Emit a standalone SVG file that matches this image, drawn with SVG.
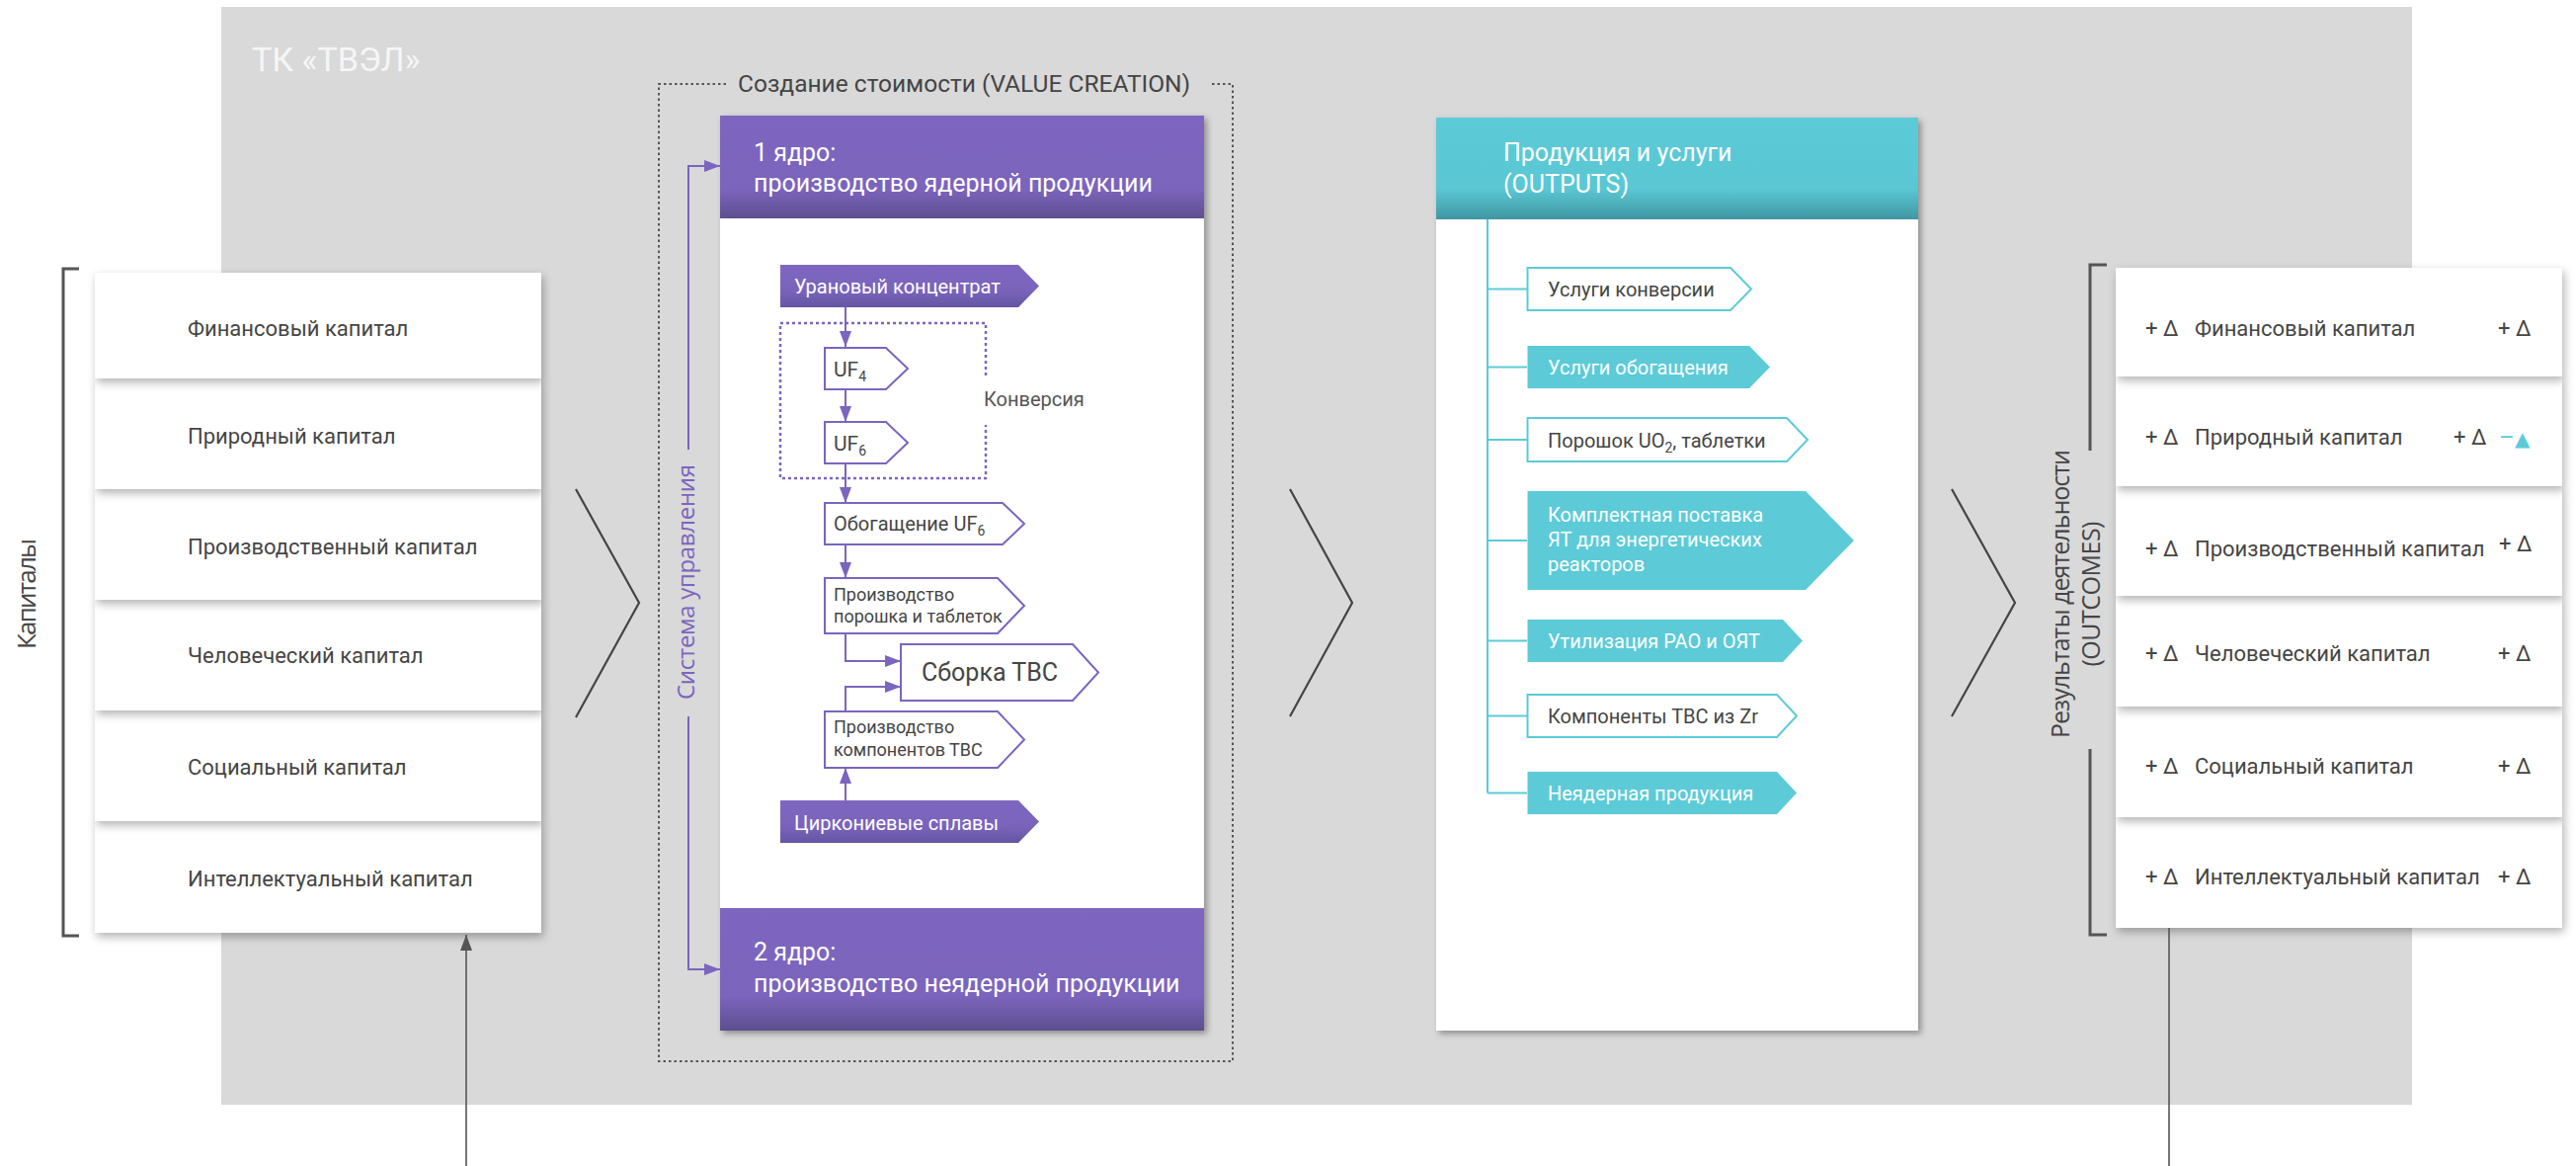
<svg xmlns="http://www.w3.org/2000/svg" width="2608" height="1180" viewBox="0 0 2608 1180">
<style>
.c{font-family:Roboto,"Liberation Sans",sans-serif;}
.r{font-family:"Open Sans","DejaVu Sans",sans-serif;}
.dk{fill:#454545;}
.wt{fill:#ffffff;}
.cap{font-size:22px;}
.tag{font-size:20px;}
.sm{font-size:18px;}
.hd{font-size:25px;fill:#ffffff;}
.box{fill:#ffffff;filter:url(#sh);}
.pan{fill:#ffffff;filter:url(#psh);}
.po{fill:#ffffff;stroke:#7b65bf;stroke-width:2;}
.pf{fill:url(#gTag);}
.to{fill:#ffffff;stroke:#5ccbd7;stroke-width:2;}
.tf{fill:#5ccbd7;}
.pl{fill:none;stroke:#7b65bf;stroke-width:2;}
.tl{fill:none;stroke:#5ccbd7;stroke-width:2;}
.chev{fill:none;stroke:#444;stroke-width:2.2;}
.brk{fill:none;stroke:#555;stroke-width:3;}
</style>
<defs>
<filter id="sh" x="-5%" y="-20%" width="110%" height="150%">
<feDropShadow dx="2" dy="4" stdDeviation="5" flood-color="#000" flood-opacity="0.3"/>
</filter>
<filter id="psh" x="-5%" y="-5%" width="110%" height="110%">
<feDropShadow dx="3" dy="3" stdDeviation="3" flood-color="#000" flood-opacity="0.35"/>
</filter>
<linearGradient id="gPur" x1="0" y1="0" x2="0" y2="1">
<stop offset="0" stop-color="#7e66c0"/><stop offset="0.72" stop-color="#7b64bc"/><stop offset="1" stop-color="#5e4f8f"/>
</linearGradient>
<linearGradient id="gTeal" x1="0" y1="0" x2="0" y2="1">
<stop offset="0" stop-color="#5ccbd7"/><stop offset="0.7" stop-color="#5ac7d3"/><stop offset="1" stop-color="#3f97a2"/>
</linearGradient>
<linearGradient id="gTag" x1="0" y1="0" x2="0" y2="1">
<stop offset="0" stop-color="#7e66c0"/><stop offset="0.6" stop-color="#7a64bb"/><stop offset="1" stop-color="#6555a3"/>
</linearGradient>
<marker id="ap" viewBox="0 0 16 12" refX="16" refY="6" markerWidth="16" markerHeight="12" markerUnits="userSpaceOnUse" orient="auto">
<path d="M0 0 L16 6 L0 12 Z" fill="#7b65bf"/>
</marker>
<marker id="ag" viewBox="0 0 16 12" refX="16" refY="6" markerWidth="16" markerHeight="12" markerUnits="userSpaceOnUse" orient="auto">
<path d="M0 0 L16 6 L0 12 Z" fill="#555"/>
</marker>
</defs>

<g id="background">
<rect x="224" y="7" width="2218" height="1111" fill="#d9d9d9"/>
<text class="c" x="255" y="72" font-size="34" fill="#f6f6f6">ТК «ТВЭЛ»</text>
</g>

<g id="capitals">
<path class="brk" d="M80 272 H64 V947 H80"/>
<text class="r dk" font-size="26" textLength="112" transform="translate(36,601) rotate(-90)" text-anchor="middle">Капиталы</text>
<rect class="box" x="96" y="831" width="452" height="113"/>
<rect class="box" x="96" y="719" width="452" height="112"/>
<rect class="box" x="96" y="607" width="452" height="112"/>
<rect class="box" x="96" y="495" width="452" height="112"/>
<rect class="box" x="96" y="383" width="452" height="112"/>
<rect class="box" x="96" y="276" width="452" height="107"/>
<text class="c dk cap" x="190" y="340">Финансовый капитал</text>
<text class="c dk cap" x="190" y="449">Природный капитал</text>
<text class="c dk cap" x="190" y="561">Производственный капитал</text>
<text class="c dk cap" x="190" y="671">Человеческий капитал</text>
<text class="c dk cap" x="190" y="784">Социальный капитал</text>
<text class="c dk cap" x="190" y="897">Интеллектуальный капитал</text>
</g>

<g id="chevrons">
<polyline class="chev" points="583,495 647,610 583,726"/>
<polyline class="chev" points="1306,495 1369,610 1306,725"/>
<polyline class="chev" points="1976,495 2040,610 1976,725"/>
</g>

<g id="value-creation">
<path d="M735 85 H667 V1074 H1248 V85 H1225" fill="none" stroke="#555" stroke-width="2" stroke-dasharray="2.5 3"/>
<text class="c dk" x="747" y="93" font-size="24.5">Создание стоимости (VALUE CREATION)</text>
<text class="r" font-size="24" textLength="238" fill="#7b65bf" transform="translate(703,589) rotate(-90)" text-anchor="middle">Система управления</text>
</g>

<g id="core-panel">
<rect class="pan" x="729" y="117" width="490" height="926"/>
<rect x="729" y="117" width="490" height="104" fill="url(#gPur)"/>
<rect x="729" y="919" width="490" height="124" fill="url(#gPur)"/>
<text class="c hd" x="763" y="163">1 ядро:</text>
<text class="c hd" x="763" y="194">производство ядерной продукции</text>
<text class="c hd" x="763" y="972">2 ядро:</text>
<text class="c hd" x="763" y="1004">производство неядерной продукции</text>
</g>

<g id="conversion">
<path d="M998 380 V327 H790 V484 H998 V430" fill="none" stroke="#7b65bf" stroke-width="2.5" stroke-dasharray="3 3"/>
<text class="c tag" x="996" y="411" fill="#555">Конверсия</text>
</g>

<g id="n-uranium">
<polygon class="pf" points="790,268 1031,268 1052,289.5 1031,311 790,311"/>
<text class="c tag wt" x="804" y="297">Урановый концентрат</text>
</g>
<g id="n-uf4">
<polygon class="po" points="835,352 897,352 919,373 897,394 835,394"/>
<text class="c dk" x="844" y="381" font-size="21">UF<tspan font-size="14" dy="5">4</tspan></text>
</g>
<g id="n-uf6">
<polygon class="po" points="835,427 897,427 919,448 897,469 835,469"/>
<text class="c dk" x="844" y="456" font-size="21">UF<tspan font-size="14" dy="5">6</tspan></text>
</g>
<g id="n-enrich">
<polygon class="po" points="835,509 1015,509 1037,530 1015,551 835,551"/>
<text class="c dk" x="844" y="537" font-size="20">Обогащение UF<tspan font-size="14" dy="5">6</tspan></text>
</g>
<g id="n-powder">
<polygon class="po" points="835,585 1010,585 1037,613 1010,641 835,641"/>
<text class="c dk sm" x="844" y="608">Производство</text>
<text class="c dk sm" x="844" y="630">порошка и таблеток</text>
</g>
<g id="n-assembly">
<polygon class="po" points="912,652 1086,652 1112,680.5 1086,709 912,709"/>
<text class="c dk" x="933" y="689" font-size="25">Сборка ТВС</text>
</g>
<g id="n-components">
<polygon class="po" points="835,720 1010,720 1037,748.5 1010,777 835,777"/>
<text class="c dk sm" x="844" y="742">Производство</text>
<text class="c dk sm" x="844" y="765">компонентов ТВС</text>
</g>
<g id="n-zirconium">
<polygon class="pf" points="790,810 1031,810 1052,831.5 1031,853 790,853"/>
<text class="c tag wt" x="804" y="840">Циркониевые сплавы</text>
</g>

<g id="outputs-panel">
<rect class="pan" x="1454" y="119" width="488" height="924"/>
<rect x="1454" y="119" width="488" height="103" fill="url(#gTeal)"/>
<text class="c hd" x="1522" y="163">Продукция и услуги</text>
<text class="c hd" x="1522" y="195">(OUTPUTS)</text>
</g>
<g id="o1">
<polygon class="to" points="1546.5,271 1752,271 1773,292.5 1752,314 1546.5,314"/>
<text class="c tag dk" x="1567" y="300">Услуги конверсии</text>
</g>
<g id="o2">
<polygon class="tf" points="1546.5,350 1771,350 1792,371.5 1771,393 1546.5,393"/>
<text class="c tag wt" x="1567" y="379">Услуги обогащения</text>
</g>
<g id="o3">
<polygon class="to" points="1546.5,423 1809,423 1830,445 1809,467 1546.5,467"/>
<text class="c tag dk" x="1567" y="453">Порошок UO<tspan font-size="14" dy="5">2</tspan><tspan dy="-5">, таблетки</tspan></text>
</g>
<g id="o4">
<polygon class="tf" points="1546.5,497 1828,497 1877,547 1828,597 1546.5,597"/>
<text class="c tag wt" x="1567" y="528">Комплектная поставка</text>
<text class="c tag wt" x="1567" y="553">ЯТ для энергетических</text>
<text class="c tag wt" x="1567" y="578">реакторов</text>
</g>
<g id="o5">
<polygon class="tf" points="1546.5,627 1805,627 1825,648.5 1805,670 1546.5,670"/>
<text class="c tag wt" x="1567" y="656">Утилизация РАО и ОЯТ</text>
</g>
<g id="o6">
<polygon class="to" points="1546.5,703 1799,703 1819,724.5 1799,746 1546.5,746"/>
<text class="c tag dk" x="1567" y="732">Компоненты ТВС из Zr</text>
</g>
<g id="o7">
<polygon class="tf" points="1546.5,781 1799,781 1819,802.5 1799,824 1546.5,824"/>
<text class="c tag wt" x="1567" y="810">Неядерная продукция</text>
</g>

<g id="outcomes">
<path class="brk" d="M2133 268 H2116 V456"/>
<path class="brk" d="M2116 758 V946 H2133"/>
<text class="r dk" font-size="25" textLength="292" transform="translate(2095,601) rotate(-90)" text-anchor="middle">Результаты деятельности</text>
<text class="r dk" font-size="25" textLength="147" transform="translate(2126,601) rotate(-90)" text-anchor="middle">(OUTCOMES)</text>
<rect class="box" x="2142" y="827" width="452" height="112"/>
<rect class="box" x="2142" y="715" width="452" height="112"/>
<rect class="box" x="2142" y="603" width="452" height="112"/>
<rect class="box" x="2142" y="492" width="452" height="111"/>
<rect class="box" x="2142" y="381" width="452" height="111"/>
<rect class="box" x="2142" y="271" width="452" height="110"/>
<g class="c dk cap">
<text x="2172" y="340">+ Δ</text><text x="2222" y="340">Финансовый капитал</text><text x="2529" y="340">+ Δ</text>
<text x="2172" y="450">+ Δ</text><text x="2222" y="450">Природный капитал</text><text x="2484" y="450">+ Δ</text>
<text x="2172" y="563">+ Δ</text><text x="2222" y="563">Производственный капитал</text><text x="2530" y="558">+ Δ</text>
<text x="2172" y="669">+ Δ</text><text x="2222" y="669">Человеческий капитал</text><text x="2529" y="669">+ Δ</text>
<text x="2172" y="783">+ Δ</text><text x="2222" y="783">Социальный капитал</text><text x="2529" y="783">+ Δ</text>
<text x="2172" y="895">+ Δ</text><text x="2222" y="895">Интеллектуальный капитал</text><text x="2529" y="895">+ Δ</text>
</g>
<text class="c" x="2530" y="451" font-size="24" fill="#5ccbd7">–</text>
<text x="2546" y="451" font-size="20" fill="#5ccbd7" font-family="DejaVu Sans, sans-serif">▲</text>
</g>

<g id="connectors">
<path class="pl" d="M697 455 V168 H729" marker-end="url(#ap)"/>
<path class="pl" d="M697 725 V981 H729" marker-end="url(#ap)"/>
<path class="pl" d="M856 311 V351" marker-end="url(#ap)"/>
<path class="pl" d="M856 394 V427" marker-end="url(#ap)"/>
<path class="pl" d="M856 469 V509" marker-end="url(#ap)"/>
<path class="pl" d="M856 551 V585" marker-end="url(#ap)"/>
<path class="pl" d="M856 641 V669 H912" marker-end="url(#ap)"/>
<path class="pl" d="M856 720 V695 H912" marker-end="url(#ap)"/>
<path class="pl" d="M856 810 V777" marker-end="url(#ap)"/>
<path class="tl" d="M1506 222 V802.5"/>
<path class="tl" d="M1506 292.5 H1546 M1506 371.5 H1546 M1506 445 H1546 M1506 547 H1546 M1506 648.5 H1546 M1506 724.5 H1546 M1506 802.5 H1546"/>
<path d="M472 1180 V946" fill="none" stroke="#555" stroke-width="1.6" marker-end="url(#ag)"/>
<path d="M2196 939 V1180" fill="none" stroke="#555" stroke-width="1.6"/>
</g>
</svg>
